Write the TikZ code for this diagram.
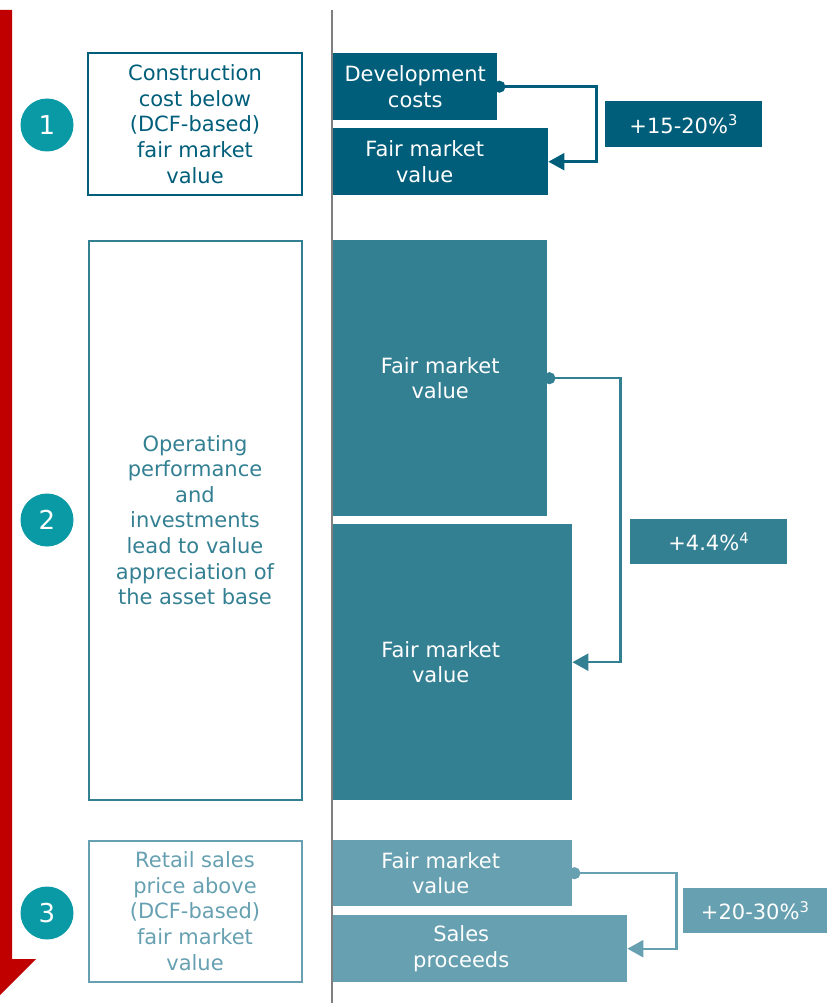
\documentclass[tikz,border=0pt]{standalone}
\usepackage{fontspec}
\setmainfont{DejaVu Sans}
\usetikzlibrary{arrows.meta,positioning}

\definecolor{darkteal}{HTML}{005E7A}
\definecolor{midteal}{HTML}{348093}
\definecolor{lightteal}{HTML}{66A0B1}
\definecolor{circteal}{HTML}{0A9AA6}
\definecolor{redbar}{HTML}{C00000}
\definecolor{axisgray}{HTML}{7F7F7F}
\newcommand{\boxfont}{\fontsize{21}{25.6}\selectfont}

\begin{document}
\begin{tikzpicture}[x=1pt,y=-1pt]
	\tikzset{outline/.style={draw=#1, line width=2pt, text=#1, align=center, font=\boxfont, inner sep=0pt}}
	\tikzset{fillbox/.style={fill=#1, text=white, align=center, font=\boxfont, inner sep=0pt, anchor=north west}}
	\tikzset{boxlabel/.style={text=white, align=center, font=\boxfont}}
	\tikzset{badge/.style={circle, fill=circteal, text=white, minimum size=53pt, inner sep=0pt, font=\fontsize{26}{26}\selectfont}}
	\tikzset{link/.style={draw=#1, line width=2.4pt, {Circle[length=12pt]}-{Triangle[length=16pt,width=17pt]}}}

	\useasboundingbox (0,0) rectangle (827,1003);

	% time axis
	\fill[redbar] (0,10) -- (12,10) -- (12,959) -- (36,959) -- (0,995) -- cycle;
	\draw[axisgray, line width=2pt] (331.5,10) -- (331.5,1003);

	% steps
	\node[badge] (n1) at (47,125) {1};
	\node[badge] (n2) at (47,520) {2};
	\node[badge] (n3) at (47,913) {3};

	\node[outline=darkteal, minimum width=214pt, minimum height=141pt] (s1) at (195,124) {Construction\\cost below\\(DCF-based)\\fair market\\value};
	\node[outline=midteal, minimum width=213pt, minimum height=559pt] (s2) at (195,520) {Operating\\performance\\and\\investments\\lead to value\\appreciation of\\the asset base};
	\node[outline=lightteal, minimum width=213pt, minimum height=141pt] (s3) at (195,911) {Retail sales\\price above\\(DCF-based)\\fair market\\value};

	% values
	\node[fillbox=darkteal, minimum width=164pt, minimum height=67pt] (dev) at (333,53) {Development\\costs};
	\node[fillbox=darkteal, minimum width=215pt, minimum height=67pt, label={[boxlabel, xshift=-16pt]center:{Fair market\\value}}] (fmv1) at (333,128) {};
	\node[fillbox=darkteal, minimum width=157pt, minimum height=46pt] (g1) at (605,101) {+15-20\%\textsuperscript{3}};

	\node[fillbox=midteal, minimum width=214pt, minimum height=276pt] (fmv2) at (333,240) {Fair market\\value};
	\node[fillbox=midteal, minimum width=239pt, minimum height=276pt, label={[boxlabel, xshift=-12pt]center:{Fair market\\value}}] (fmv3) at (333,524) {};
	\node[fillbox=midteal, minimum width=157pt, minimum height=45pt] (g2) at (630,519) {+4.4\%\textsuperscript{4}};

	\node[fillbox=lightteal, minimum width=239pt, minimum height=66pt, label={[boxlabel, xshift=-12pt]center:{Fair market\\value}}] (fmv4) at (333,840) {};
	\node[fillbox=lightteal, minimum width=294pt, minimum height=67pt, label={[boxlabel, xshift=-19pt]center:{Sales\\proceeds}}] (sales) at (333,915) {};
	\node[fillbox=lightteal, minimum width=144pt, minimum height=45pt] (g3) at (683,888) {+20-30\%\textsuperscript{3}};

	% uplifts
	\draw[link=darkteal] ([xshift=-4pt]dev.east) -- ++(103,0) |- (fmv1.east);
	\draw[link=midteal] ([xshift=-4pt]fmv2.east) -- ++(77,0) |- (fmv3.east);
	\draw[link=lightteal] ([xshift=-4pt]fmv4.east) -- ++(108,0) |- (sales.east);
\end{tikzpicture}
\end{document}
